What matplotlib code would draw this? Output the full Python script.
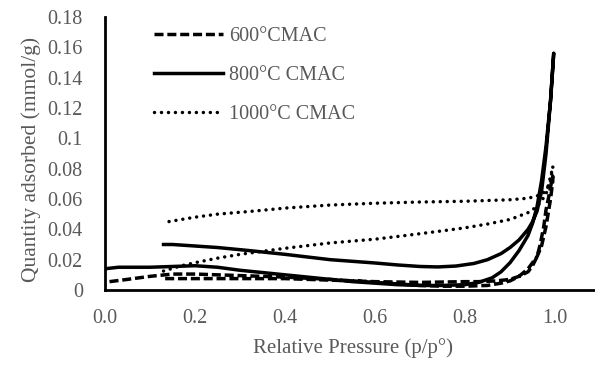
import numpy as np
import matplotlib.pyplot as plt

plt.rcParams['font.family'] = ['Liberation Serif', 'DejaVu Serif']

# 600 C CMAC (adsorption + desorption branches)
p600_ads = [0.01, 0.05, 0.1, 0.15, 0.2, 0.3, 0.4, 0.5, 0.6, 0.65, 0.7, 0.75, 0.8, 0.85, 0.88, 0.9,
            0.92, 0.94, 0.96, 0.97, 0.98, 0.99, 0.995]
q600_ads = [0.0055, 0.007, 0.009, 0.0105, 0.0105, 0.0095, 0.0085, 0.007, 0.005, 0.004, 0.003, 0.0025,
            0.0025, 0.003, 0.0045, 0.006, 0.009, 0.014, 0.022, 0.029, 0.042, 0.060, 0.072]
p600_des = [0.995, 0.99, 0.985, 0.98, 0.975, 0.967, 0.96, 0.95, 0.94, 0.92, 0.9, 0.87, 0.83, 0.8,
            0.7, 0.6, 0.5, 0.4, 0.3, 0.2, 0.13]
q600_des = [0.075, 0.068, 0.060, 0.053, 0.042, 0.030, 0.022, 0.016, 0.012, 0.009, 0.007, 0.006,
            0.0055, 0.0055, 0.005, 0.0055, 0.0065, 0.0075, 0.0075, 0.0075, 0.0075]

# 800 C CMAC
p800_ads = [0.0, 0.03, 0.1, 0.15, 0.2, 0.25, 0.3, 0.35, 0.4, 0.45, 0.5, 0.55, 0.6, 0.65, 0.7, 0.75,
            0.8, 0.83, 0.86, 0.88, 0.9, 0.92, 0.94, 0.95, 0.96, 0.97, 0.98, 0.99, 0.997]
q800_ads = [0.014, 0.015, 0.015, 0.0155, 0.016, 0.015, 0.013, 0.0115, 0.010, 0.0085, 0.007, 0.0055,
            0.0045, 0.0035, 0.003, 0.003, 0.0035, 0.005, 0.008, 0.012, 0.018, 0.026, 0.036, 0.044,
            0.055, 0.072, 0.095, 0.125, 0.156]
p800_des = [0.997, 0.99, 0.98, 0.97, 0.96, 0.95, 0.94, 0.92, 0.9, 0.88, 0.85, 0.82, 0.78, 0.74,
            0.7, 0.65, 0.6, 0.5, 0.4, 0.32, 0.25, 0.2, 0.15, 0.13]
q800_des = [0.156, 0.125, 0.090, 0.065, 0.052, 0.045, 0.040, 0.033, 0.028, 0.024, 0.020, 0.0175,
            0.0158, 0.0152, 0.0155, 0.0165, 0.0178, 0.020, 0.0235, 0.026, 0.028, 0.029, 0.030, 0.030]

# 1000 C CMAC
p1000_ads = [0.13, 0.17, 0.2, 0.25, 0.3, 0.4, 0.5, 0.6, 0.67, 0.75, 0.8, 0.85, 0.9, 0.94, 0.96,
             0.98, 0.99, 0.995]
q1000_ads = [0.0125, 0.016, 0.018, 0.021, 0.0235, 0.0275, 0.031, 0.0335, 0.036, 0.039, 0.041,
             0.0435, 0.0465, 0.051, 0.055, 0.063, 0.075, 0.081]
p1000_des = [0.995, 0.99, 0.98, 0.96, 0.94, 0.9, 0.8, 0.7, 0.6, 0.5, 0.4, 0.33, 0.25, 0.2, 0.14]
q1000_des = [0.081, 0.072, 0.065, 0.062, 0.0605, 0.0595, 0.0585, 0.058, 0.0572, 0.056, 0.054,
             0.052, 0.050, 0.048, 0.045]

xticks = [0.0, 0.2, 0.4, 0.6, 0.8, 1.0]
yticks = [0, 0.02, 0.04, 0.06, 0.08, 0.1, 0.12, 0.14, 0.16, 0.18]
ylabels = ['0', '0.02', '0.04', '0.06', '0.08', '0.1', '0.12', '0.14', '0.16', '0.18']

fig = plt.figure(figsize=(5.95, 3.65), dpi=100)
ax = fig.add_axes([0.1765, 0.2055, 0.832, 0.748])

lw = 2.5
dashes = (0, (2.6, 1.1))
dots = (0, (0.01, 2.0))
ax.plot(p600_ads + p600_des, q600_ads + q600_des, color='black', lw=lw,
        linestyle=dashes, label='600°CMAC')
ax.plot(p800_ads + p800_des, q800_ads + q800_des, color='black', lw=lw,
        linestyle='-', label='800°C CMAC')
ax.plot(p1000_ads, q1000_ads, color='black', lw=lw, linestyle=dots,
        dash_capstyle='round', label='1000°C CMAC')
ax.plot(p1000_des, q1000_des, color='black', lw=lw, linestyle=dots,
        dash_capstyle='round')

ax.set_xlim(0, 1.1)
ax.set_ylim(0, 0.18)
ax.set_xticks(xticks)
ax.set_xticklabels(['%.1f' % v for v in xticks])
ax.set_yticks(yticks)
ax.set_yticklabels(ylabels)
fs = 14.5
ax.tick_params(length=0, labelsize=fs, labelcolor='#595959')
ax.tick_params(axis='x', pad=14)
ax.tick_params(axis='y', pad=16)

for s in ['top', 'right']:
    ax.spines[s].set_visible(False)
ax.spines['left'].set_linewidth(2.0)
ax.spines['bottom'].set_linewidth(2.0)

ax.set_xlabel('Relative Pressure (p/p°)', fontsize=15, color='#595959', labelpad=7)
ax.set_ylabel('Quantity adsorbed (mmol/g)', fontsize=15.5, color='#595959', labelpad=4)
ax.yaxis.set_label_coords(-0.129, 0.48)

leg = ax.legend(loc='upper left', bbox_to_anchor=(0.063, 1.03), frameon=False,
                fontsize=fs, handlelength=3.4, labelspacing=1.0, handletextpad=0.3)
for t in leg.get_texts():
    t.set_color('#595959')

fig.savefig('out.png', dpi=100)
